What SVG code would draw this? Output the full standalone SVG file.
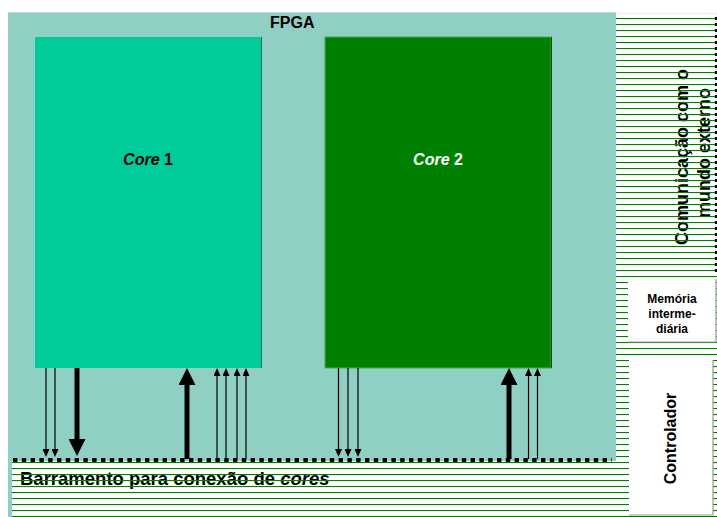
<svg xmlns="http://www.w3.org/2000/svg" width="717" height="517" viewBox="0 0 717 517">
<style>
text{font-family:"Liberation Sans",Arial,sans-serif;font-weight:bold;fill:#000}
.thin{stroke:#000;stroke-width:1.2;fill:none}
.thick{stroke:#000;stroke-width:5;fill:none}
.down{marker-end:url(#headS)}
.bigd{marker-end:url(#headL)}
.gray{stroke:#999;stroke-width:1.2;fill:none}
</style>
<defs>
<pattern id="hatch" patternUnits="userSpaceOnUse" width="8" height="6">
<line x1="0" y1="0.5" x2="8" y2="0.5" stroke="#008000" stroke-width="1.2"/>
</pattern>
<marker id="headS" markerUnits="userSpaceOnUse" markerWidth="8" markerHeight="7" refX="0" refY="3.5" orient="auto">
<path d="M0,0 L8,3.5 L0,7 Z" fill="#000"/>
</marker>
<marker id="headL" markerUnits="userSpaceOnUse" markerWidth="17" markerHeight="17" refX="0" refY="8.5" orient="auto">
<path d="M0,0 L17,8.5 L0,17 Z" fill="#000"/>
</marker>
</defs>
<rect width="717" height="517" fill="#fff"/>
<g id="fpga">
<rect x="8" y="12" width="608" height="505" fill="#90CFC4"/>
<line x1="8" y1="12.5" x2="616" y2="12.5" stroke="#B8E2DA" stroke-width="1"/>
<text x="270" y="28" font-size="16">FPGA</text>
</g>
<g id="core1">
<rect x="35" y="37" width="226" height="331" fill="#00CC99"/>
<line x1="261.5" y1="37" x2="261.5" y2="368" stroke="#2A6E5C" stroke-width="1"/>
<text x="148" y="165" font-size="16" text-anchor="middle"><tspan font-style="italic">Core</tspan> 1</text>
</g>
<g id="core2">
<rect x="325" y="37" width="226" height="331" fill="#008000" stroke="#4CA64C" stroke-width="1"/>
<line x1="551.5" y1="37" x2="551.5" y2="368" stroke="#005000" stroke-width="1"/>
<text x="438" y="165" font-size="16" text-anchor="middle" style="fill:#fff"><tspan font-style="italic">Core</tspan> 2</text>
</g>
<g id="barramento">
<rect x="12" y="461" width="604" height="56" fill="#fff"/>
<text x="20" y="485" font-size="18.5">Barramento para conexão de <tspan font-style="italic">cores</tspan></text>
<rect x="12" y="461" width="604" height="56" fill="url(#hatch)"/>
</g>
<g id="comunicacao">
<rect x="616" y="13" width="101" height="504" fill="#fff"/>
<text transform="translate(688,157) rotate(-90)" font-size="18" text-anchor="middle">Comunicação com o</text>
<text transform="translate(710,153) rotate(-90)" font-size="18" text-anchor="middle">mundo externo</text>
<rect x="616" y="13" width="101" height="504" fill="url(#hatch)"/>
<line x1="716" y1="17" x2="716" y2="273" stroke="#000" stroke-width="2.2" stroke-dasharray="3 3"/>
</g>
<g id="memoria">
<rect x="628" y="279" width="88" height="63" fill="#fff"/>
<polyline class="gray" points="716,279 716,342 628,342"/>
<text x="672" y="303" font-size="12" text-anchor="middle">Memória</text>
<text x="672" y="318" font-size="12" text-anchor="middle">interme-</text>
<text x="672" y="333" font-size="12" text-anchor="middle">diária</text>
</g>
<g id="controlador">
<rect x="629" y="360" width="84" height="155" fill="#fff"/>
<polyline class="gray" points="713,360 713,515 629,515"/>
<text transform="translate(676,438.5) rotate(-90)" font-size="16" text-anchor="middle">Controlador</text>
</g>
<g id="connectors">
<line class="thin down" x1="46" y1="368" x2="46" y2="449"/>
<line class="thin down" x1="55" y1="368" x2="55" y2="449"/>
<line class="thick bigd" x1="77" y1="368" x2="77" y2="439"/>
<line class="thick bigd" x1="187" y1="459" x2="187" y2="385"/>
<line class="thin down" x1="217" y1="459" x2="217" y2="376"/>
<line class="thin down" x1="226" y1="459" x2="226" y2="376"/>
<line class="thin down" x1="237" y1="459" x2="237" y2="376"/>
<line class="thin down" x1="246" y1="459" x2="246" y2="376"/>
<line class="thin down" x1="338.5" y1="368" x2="338.5" y2="449"/>
<line class="thin down" x1="348" y1="368" x2="348" y2="449"/>
<line class="thin down" x1="358" y1="368" x2="358" y2="449"/>
<line class="thick bigd" x1="509" y1="459" x2="509" y2="385"/>
<line class="thin down" x1="528.5" y1="459" x2="528.5" y2="376"/>
<line class="thin down" x1="537.5" y1="459" x2="537.5" y2="376"/>
</g>
<line x1="13" y1="460" x2="612" y2="460" stroke="#000" stroke-width="4" stroke-dasharray="4.4 4.4"/>
</svg>
